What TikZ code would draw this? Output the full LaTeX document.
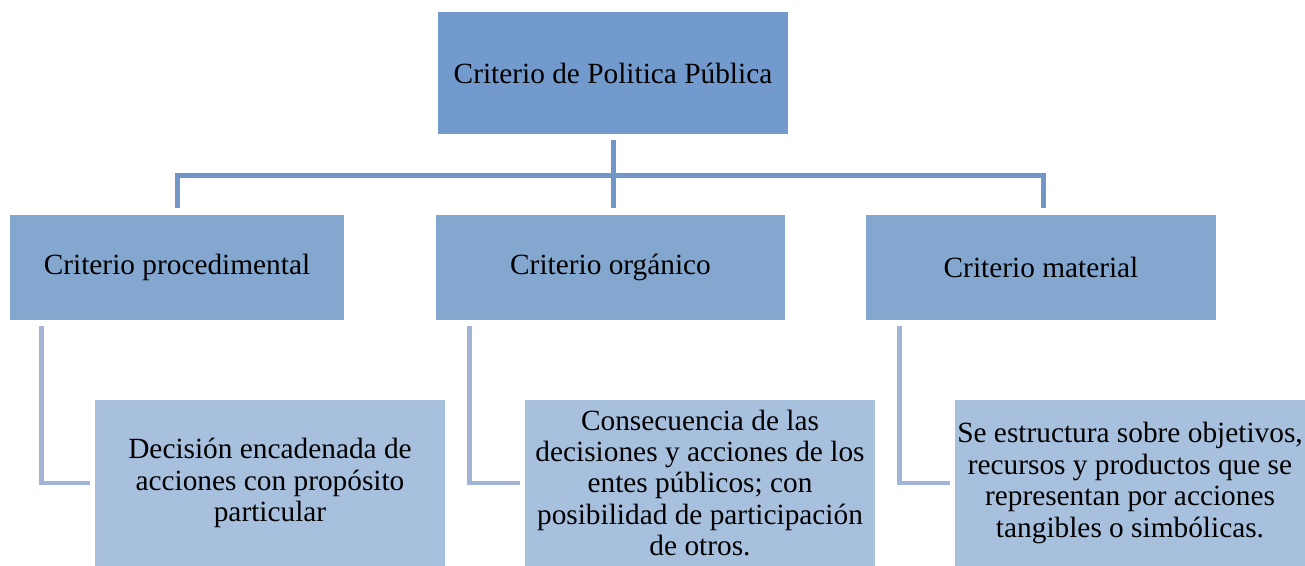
\documentclass[tikz,border=0pt]{standalone}
\usepackage{fontspec}
\setmainfont{Liberation Serif}
\definecolor{topc}{RGB}{114,154,204}
\definecolor{midc}{RGB}{132,167,208}
\definecolor{lowc}{RGB}{167,192,222}
\definecolor{linea}{RGB}{115,150,200}
\definecolor{lineb}{RGB}{162,180,214}
\begin{document}
\begin{tikzpicture}[x=0.75pt,y=-0.75pt,
  txt/.style={font=\fontsize{22pt}{23.6pt}\selectfont, align=center, inner sep=0pt},
  topbox/.style={txt, fill=topc, minimum width=262.5pt, minimum height=91.5pt},
  midbox/.style={txt, fill=midc, minimum height=78.75pt},
  lowbox/.style={txt, fill=lowc, minimum width=262.5pt, minimum height=124.5pt},
  tree/.style={draw=linea, line width=3.75pt},
  side/.style={draw=lineb, line width=3.6pt}]
\useasboundingbox (0,0) rectangle (1305,566);
\node[topbox] (top) at (613,73) {Criterio de Politica Pública};
\node[midbox, minimum width=250.5pt] (c1) at (177,267.5) {Criterio procedimental};
\node[midbox, minimum width=261.75pt] (c2) at (610.5,267.5) {Criterio orgánico};
\node[midbox, minimum width=262.5pt] (c3) at (1041,267.5) {Criterio material};
\node[lowbox] (d1) at (270,483) {Decisión encadenada de\\acciones con propósito\\particular};
\node[lowbox] (d2) at (700,483) {Consecuencia de las\\decisiones y acciones de los\\entes públicos; con\\posibilidad de participación\\de otros.};
\node[lowbox] (d3) at (1130,483) {Se estructura sobre objetivos,\\recursos y productos que se\\representan por acciones\\tangibles o simbólicas.};
\coordinate (j) at (613,176);
\coordinate (jl) at (177,176);
\coordinate (jr) at (1043,176);
\draw[tree, shorten <=4.5pt] (top.south) -- (j);
\draw[tree, line cap=rect] (jl) -- (jr);
\draw[tree, shorten >=5.25pt] (jl) -- (c1.north);
\draw[tree, shorten >=5.25pt] (j) -- (j |- c2.north);
\draw[tree, shorten >=5.25pt] (jr) -- (jr |- c3.north);
\draw[side, shorten <=4.5pt, shorten >=3.75pt] ([xshift=24pt]c1.south west) |- (d1.west);
\draw[side, shorten <=4.5pt, shorten >=3.75pt] ([xshift=25.5pt]c2.south west) |- (d2.west);
\draw[side, shorten <=4.5pt, shorten >=3.75pt] ([xshift=25.5pt]c3.south west) |- (d3.west);
\end{tikzpicture}
\end{document}
